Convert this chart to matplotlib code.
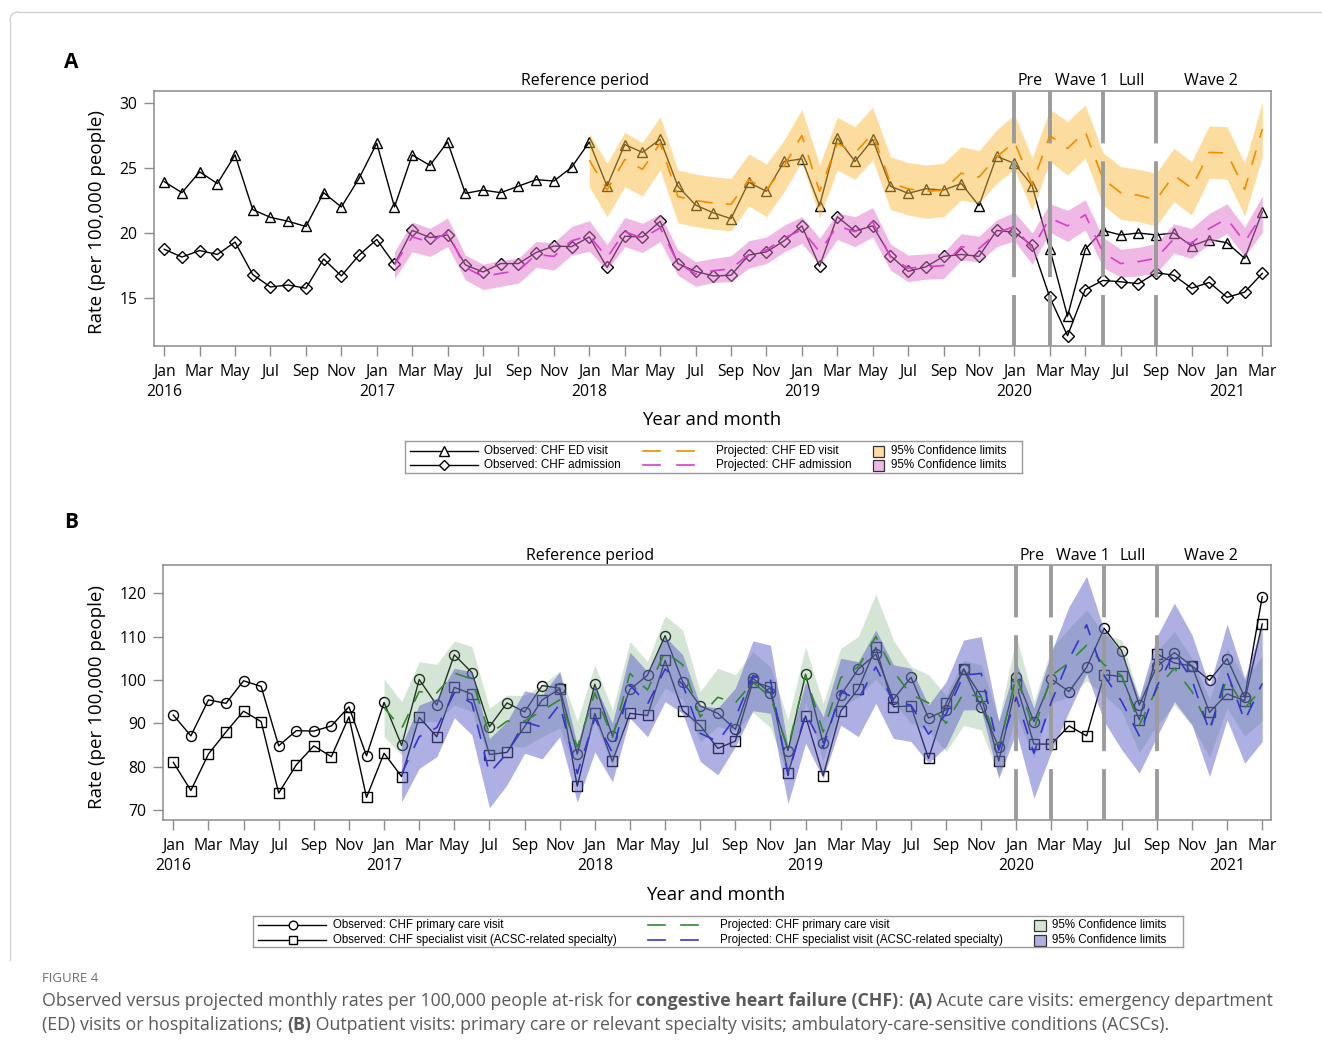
import numpy as np
import pandas as pd
import matplotlib
matplotlib.use("Agg")
import matplotlib.pyplot as plt
from matplotlib.lines import Line2D
from matplotlib.patches import Rectangle

W, H = 1322, 1056
plt.rcParams.update({
    "font.family": ["Open Sans", "DejaVu Sans"],
    "axes.linewidth": 1.1,
})

# Datos (tasas mensuales por 100,000)

months = pd.date_range("2016-01-01", "2021-03-01", freq="MS")
x = np.arange(len(months))
tick_labels = [m.strftime("%b") + (m.strftime("\n%Y") if m.month == 1 else "")
               for m in months[::2]]

# Panel A: visitas ED y admisiones
ed_obs = [23.95, 23.1, 24.7, 23.8, 26.0, 21.8, 21.2, 20.9, 20.5, 23.1, 22.0, 24.2,
          26.9, 22.0, 26.0, 25.2, 27.0, 23.05, 23.3, 23.1, 23.6, 24.1, 24.0, 25.05,
          27.0, 23.6, 26.8, 26.2, 27.2, 23.6, 22.15, 21.55, 21.1, 23.9, 23.2, 25.5,
          25.7, 22.1, 27.3, 25.5, 27.2, 23.6, 23.05, 23.4, 23.3, 23.8, 22.1, 25.9,
          25.35, 23.65, 18.75, 13.6, 18.75, 20.2, 19.85, 20.0, 19.85, 20.0, 19.0, 19.5,
          19.25, 18.05, 21.65]
adm_obs = [18.75, 18.15, 18.65, 18.35, 19.3, 16.8, 15.85, 16.0, 15.75, 18.0, 16.7, 18.3,
           19.5, 17.6, 20.2, 19.65, 19.85, 17.55, 17.0, 17.65, 17.65, 18.5, 19.0, 18.95,
           19.7, 17.35, 19.75, 19.7, 20.9, 17.65, 17.05, 16.7, 16.75, 18.3, 18.55, 19.4,
           20.55, 17.45, 21.25, 20.15, 20.55, 18.25, 17.05, 17.4, 18.2, 18.35, 18.2, 20.2,
           20.05, 19.05, 15.05, 12.1, 15.65, 16.35, 16.25, 16.1, 16.95, 16.75, 15.75, 16.2,
           15.05, 15.45, 16.9]

ed_start = 24   # Jan 2018
ed_proj = [25.6, 23.3, 25.65, 24.9, 26.9, 22.8, 22.5, 22.3, 22.2, 24.1, 23.3, 25.15,
           27.5, 23.2, 26.9, 26.15, 27.65, 23.85, 23.4, 23.2, 23.3, 24.6, 24.3, 25.85,
           27.0, 23.75, 27.5, 26.5, 27.8, 24.15, 23.1, 22.9, 22.55, 24.45, 23.45, 26.2,
           26.15, 23.35, 28.0]
ed_hi = [27.67, 25.36, 27.74, 26.95, 28.95, 24.85, 24.54, 24.33, 24.2, 26.08, 25.3, 27.15,
         29.51, 25.23, 28.9, 28.18, 29.67, 25.87, 25.41, 25.23, 25.36, 26.64, 26.33, 27.92,
         29.1, 25.75, 29.5, 28.57, 29.85, 26.18, 25.1, 24.9, 24.59, 26.51, 25.49, 28.23,
         28.18, 25.36, 30.1]
ed_lo = [23.56, 21.26, 23.56, 22.85, 24.85, 20.79, 20.49, 20.28, 20.18, 22.08, 21.26, 23.18,
         25.49, 21.18, 24.85, 24.13, 25.62, 21.82, 21.38, 21.13, 21.26, 22.54, 22.28, 23.82,
         24.9, 21.72, 25.49, 24.46, 25.75, 22.15, 21.05, 20.87, 20.54, 22.41, 21.39, 24.21,
         24.13, 21.31, 25.87]

adm_start = 13  # Feb 2017
adm_proj = [17.55, 19.7, 19.3, 20.05, 17.35, 16.65, 16.9, 17.1, 18.35, 18.2, 19.4,
            19.8, 18.1, 20.1, 19.6, 20.4, 17.7, 16.85, 17.1, 17.25, 18.35, 18.7, 19.6,
            20.25, 18.55, 20.55, 20.1, 20.85, 18.15, 17.3, 17.4, 17.5, 18.95, 18.8, 20.0,
            20.5, 18.8, 21.15, 20.55, 21.4, 18.5, 17.65, 17.8, 18.05, 19.55, 19.2, 20.35,
            21.1, 19.3, 21.45]
adm_hi = [18.55, 20.85, 20.35, 21.15, 18.3, 17.6, 17.9, 18.05, 19.35, 19.25, 20.5,
          20.95, 19.1, 21.2, 20.75, 21.45, 18.7, 17.8, 18.05, 18.25, 19.4, 19.7, 20.6,
          21.25, 19.6, 21.55, 21.25, 21.95, 19.15, 18.3, 18.4, 18.5, 19.95, 19.75, 21.0,
          21.6, 20.0, 22.25, 21.75, 22.55, 19.65, 18.75, 18.9, 19.2, 20.7, 20.35, 21.5,
          22.25, 20.45, 22.85]
adm_lo = [16.5, 18.55, 18.2, 18.95, 16.4, 15.65, 15.9, 16.15, 17.35, 17.15, 18.3,
          18.6, 17.15, 18.95, 18.5, 19.35, 16.75, 15.9, 16.2, 16.25, 17.3, 17.65, 18.55,
          19.2, 17.55, 19.5, 18.95, 19.7, 17.15, 16.25, 16.45, 16.5, 17.9, 17.8, 18.95,
          19.4, 17.6, 20.05, 19.35, 20.25, 17.35, 16.6, 16.7, 16.9, 18.45, 18.05, 19.2,
          19.95, 18.2, 20.05]

# Panel B: atencion primaria y especialista
pc_obs = [91.9, 87.1, 95.4, 94.6, 99.8, 98.5, 84.8, 88.3, 88.2, 89.4, 93.8, 82.5,
          94.8, 84.9, 100.1, 94.2, 105.8, 101.7, 89.2, 94.7, 92.6, 98.7, 98.1, 82.9,
          99.0, 87.1, 97.8, 101.1, 110.2, 99.6, 94.0, 92.3, 88.6, 100.4, 96.9, 83.7,
          101.3, 85.4, 96.5, 102.5, 105.9, 95.5, 100.6, 91.2, 93.1, 102.5, 93.8, 84.5,
          100.7, 90.4, 100.2, 97.3, 102.9, 111.9, 106.7, 94.2, 103.1, 106.3, 103.2, 99.9,
          104.9, 96.0, 119.2]
sp_obs = [81.0, 74.5, 82.9, 88.0, 92.8, 90.4, 73.9, 80.4, 84.8, 82.3, 91.5, 72.9,
          83.1, 77.7, 91.4, 86.9, 98.3, 96.7, 82.8, 83.3, 89.2, 95.4, 97.9, 75.5,
          92.3, 81.2, 92.3, 91.8, 104.5, 92.9, 89.5, 84.2, 85.9, 99.6, 98.3, 78.5,
          91.7, 77.9, 92.8, 97.9, 107.5, 93.8, 94.0, 81.9, 94.6, 102.5, 96.2, 81.3,
          99.0, 85.2, 85.2, 89.4, 87.1, 101.2, 100.8, 90.8, 106.0, 103.9, 103.2, 92.5,
          96.8, 95.2, 112.9]

pc_start = 12   # Jan 2017
pc_proj = [93.6, 88.8, 97.3, 97.0, 101.6, 100.2, 87.5, 90.5, 90.5, 92.9, 95.4, 84.5,
           97.0, 86.6, 101.5, 97.7, 106.5, 103.5, 91.5, 96.0, 94.7, 99.5, 96.0, 84.3,
           101.2, 88.0, 100.5, 103.0, 110.0, 102.0, 96.6, 94.7, 90.0, 97.0, 96.0, 84.3,
           101.0, 88.5, 101.0, 104.0, 108.0, 103.5, 101.0, 89.6, 98.0, 102.7, 97.3, 88.8,
           100.4, 93.5, 98.0]
pc_hi = [100.2, 95.0, 104.2, 103.6, 109.0, 107.7, 93.5, 96.5, 96.4, 98.9, 102.0, 90.5,
         103.5, 93.1, 108.8, 104.2, 114.8, 111.5, 97.3, 102.7, 101.2, 106.5, 103.0, 90.8,
         107.7, 94.6, 107.3, 110.0, 119.8, 109.2, 103.1, 101.2, 96.5, 104.5, 103.5, 90.8,
         110.0, 95.0, 107.3, 111.9, 116.2, 110.5, 109.2, 96.0, 106.5, 111.2, 105.0, 95.5,
         107.3, 100.0, 105.5]
pc_lo = [86.9, 82.7, 90.4, 90.4, 94.2, 92.7, 81.5, 84.6, 84.6, 86.9, 88.9, 78.5,
         90.5, 80.1, 94.2, 91.2, 98.2, 95.5, 85.7, 89.3, 88.2, 92.5, 89.0, 77.8,
         94.7, 81.4, 93.7, 96.0, 100.2, 94.8, 90.1, 88.2, 83.5, 89.5, 88.5, 77.8,
         92.0, 82.0, 94.7, 96.1, 99.8, 96.5, 92.8, 83.2, 89.5, 94.2, 89.6, 82.1,
         93.5, 87.0, 90.5]

sp_start = 13   # Feb 2017
sp_proj = [78.4, 86.9, 89.0, 97.0, 94.6, 78.5, 83.1, 90.3, 89.1, 94.4, 78.4,
           91.2, 83.2, 98.8, 94.4, 102.5, 99.0, 87.7, 85.8, 91.3, 101.0, 100.1, 78.0,
           92.4, 84.4, 97.3, 95.5, 103.0, 95.0, 94.2, 87.5, 92.1, 101.1, 101.5, 83.8,
           96.0, 83.1, 95.0, 104.8, 112.7, 101.0, 95.0, 87.1, 98.5, 106.3, 100.0, 88.1,
           101.8, 90.6, 99.2]
sp_hi = [85.0, 94.2, 95.8, 102.7, 101.9, 86.5, 90.4, 97.5, 96.5, 101.9, 85.0,
         99.0, 90.0, 106.4, 101.9, 110.0, 105.8, 94.2, 93.5, 98.1, 109.0, 108.0, 84.6,
         99.5, 91.5, 105.0, 104.2, 111.5, 103.5, 102.7, 94.2, 99.6, 109.2, 110.0, 90.4,
         104.0, 93.5, 106.5, 116.9, 123.9, 111.5, 106.2, 95.8, 110.0, 117.7, 110.4, 98.5,
         112.9, 100.4, 112.7]
sp_lo = [71.9, 79.6, 82.3, 91.3, 87.3, 70.5, 75.8, 83.1, 81.8, 86.9, 71.8,
         83.4, 76.5, 91.2, 86.9, 95.0, 92.3, 81.2, 78.1, 84.6, 92.9, 92.3, 71.5,
         85.4, 77.3, 89.6, 86.9, 94.6, 86.5, 85.8, 80.8, 84.6, 93.1, 93.1, 77.3,
         88.0, 72.7, 83.5, 92.7, 101.5, 90.4, 83.9, 78.5, 86.9, 95.0, 89.6, 77.7,
         90.8, 80.8, 85.8]

# Periodos COVID (indices de mes)
period_breaks = [48, 50, 53, 56]
period_names = ["Reference period", "Pre", "Wave 1", "Lull", "Wave 2"]
period_centers = [23.75, 48.9, 51.8, 54.6, 59.1]

C_ED, C_ED_BAND = "#F08C00", "#FDBB41"
C_ADM, C_ADM_BAND = "#D63FC8", "#E173CD"
C_PC, C_PC_BAND = "#2E8B2E", "#76AC76"
C_SP, C_SP_BAND = "#3535D0", "#5F61C9"
GRAY = "#8c8c8c"

fig = plt.figure(figsize=(W / 100, H / 100), dpi=100, facecolor="white")


def box(l, t, r, b):
    return [l / W, 1 - b / H, (r - l) / W, (b - t) / H]


def style(ax, xlim, ylim, yticks):
    ax.set_xlim(*xlim)
    ax.set_ylim(*ylim)
    ax.set_yticks(yticks)
    ax.set_xticks(x[::2])
    ax.set_xticklabels(tick_labels, linespacing=1.3)
    for s in ax.spines.values():
        s.set_color(GRAY)
    ax.tick_params(colors=GRAY, labelcolor="black", length=7, width=1,
                   labelsize=11.3, pad=6)
    ax.tick_params(axis="y", pad=5)


def period_marks(ax, ytxt):
    y0, y1 = ax.get_ylim()
    for b in period_breaks:
        ax.plot([b, b], [y0, y1], color="#9b9b9b", lw=2.8,
                dashes=(13.1, 4.6, 29.8, 4.6, 200, 1),
                dash_capstyle="butt", zorder=3.5)
    tr = ax.get_xaxis_transform()
    for name, cx in zip(period_names, period_centers):
        ax.text(cx, ytxt, name, transform=tr, ha="center", va="baseline",
                fontsize=11.5)


def observed(ax, y, marker, ms):
    ax.plot(x, y, color="black", lw=1, marker=marker, ms=ms, mfc="none",
            mec="black", mew=1, zorder=2)


def projected(ax, start, proj, lo, hi, c_line, c_band, alpha):
    xs = x[start:]
    ax.fill_between(xs, lo, hi, color=c_band, alpha=alpha, lw=0, zorder=3)
    ax.plot(xs, proj, color=c_line, lw=1.2, dashes=(9, 8), zorder=4)


# Panel A
axA = fig.add_axes(box(154.3, 91, 1270.7, 346))
style(axA, (-0.56, 62.47), (11.31, 30.92), [15, 20, 25, 30])
observed(axA, ed_obs, "^", 7.5)
observed(axA, adm_obs, "D", 5.8)
projected(axA, ed_start, ed_proj, ed_lo, ed_hi, C_ED, C_ED_BAND, 0.5)
projected(axA, adm_start, adm_proj, adm_lo, adm_hi, C_ADM, C_ADM_BAND, 0.5)
period_marks(axA, 1.024)

# Panel B
axB = fig.add_axes(box(163.3, 565, 1271, 820))
style(axB, (-0.57, 62.5), (67.7, 126.5), [70, 80, 90, 100, 110, 120])
observed(axB, pc_obs, "o", 7.2)
observed(axB, sp_obs, "s", 6.5)
projected(axB, pc_start, pc_proj, pc_lo, pc_hi, C_PC, C_PC_BAND, 0.3)
projected(axB, sp_start, sp_proj, sp_lo, sp_hi, C_SP, C_SP_BAND, 0.5)
period_marks(axB, 1.02)

# Textos de ejes
for cy, cx_lab, cy_lab in [(222, 712, 420), (697, 716, 895)]:
    fig.text(97 / W, 1 - cy / H, "Rate (per 100,000 people)", rotation=90,
             ha="center", va="center", fontsize=13.5)
    fig.text(cx_lab / W, 1 - cy_lab / H, "Year and month", ha="center",
             va="center", fontsize=13.3)
fig.text(71 / W, 1 - 62 / H, "A", ha="center", va="center", fontsize=15,
         fontweight="bold")
fig.text(71 / W, 1 - 523 / H, "B", ha="center", va="center", fontsize=15,
         fontweight="bold")


# Leyendas (dibujadas en cajas con coordenadas de pixel)
def legend_box(l, t, r, b):
    ax = fig.add_axes(box(l, t, r, b))
    ax.set_xlim(l, r)
    ax.set_ylim(b, t)
    ax.set_xticks([])
    ax.set_yticks([])
    for s in ax.spines.values():
        s.set_color("#9a9a9a")
        s.set_linewidth(1)
    return ax


def legend_rows(ax, rows, cols, font):
    (h0, h1, hm, tx1), (d0, d1, d2, d3, tx2), (p0, p1, tx3) = cols
    for ry, (obs_lab, mk, ms, proj_lab, c_line, band_c, alpha) in zip(rows, font["items"]):
        ax.plot([h0, h1], [ry, ry], color="black", lw=1)
        ax.plot([hm], [ry], marker=mk, ms=ms, mfc="white", mec="black", mew=1)
        ax.text(tx1, ry, obs_lab, va="center", ha="left", **font["kw"])
        ax.plot([d0, d1], [ry, ry], color=c_line, lw=1.2)
        ax.plot([d2, d3], [ry, ry], color=c_line, lw=1.2)
        ax.text(tx2, ry, proj_lab, va="center", ha="left", **font["kw"])
        ax.add_patch(Rectangle((p0, ry - 5.5), p1 - p0, 11, facecolor="white",
                               edgecolor="none"))
        ax.add_patch(Rectangle((p0, ry - 5.5), p1 - p0, 11, facecolor=band_c,
                               alpha=alpha, edgecolor="none"))
        ax.add_patch(Rectangle((p0, ry - 5.5), p1 - p0, 11, facecolor="none",
                               edgecolor="#333333", lw=0.9))
        ax.text(tx3, ry, "95% Confidence limits", va="center", ha="left",
                **font["kw"])


legA = legend_box(405, 441, 1022, 473)
legend_rows(legA, [451, 465],
            [(410, 478, 444, 484), (643, 660, 677, 694, 716), (873, 884, 891)],
            {"kw": {"fontsize": 8.4, "family": ["Liberation Sans", "DejaVu Sans"]},
             "items": [("Observed: CHF ED visit", "^", 6.5, "Projected: CHF ED visit",
                        C_ED, C_ED_BAND, 0.5),
                       ("Observed: CHF admission", "D", 5.0, "Projected: CHF admission",
                        C_ADM, C_ADM_BAND, 0.5)]})

legB = legend_box(253, 916, 1183, 947)
legend_rows(legB, [925, 940],
            [(258, 326, 293, 333), (648, 665, 681, 698, 720), (1034, 1046, 1052)],
            {"kw": {"fontsize": 8.3, "family": ["Liberation Sans Narrow", "Liberation Sans"]},
             "items": [("Observed: CHF primary care visit", "o", 6.2,
                        "Projected: CHF primary care visit", C_PC, C_PC_BAND, 0.3),
                       ("Observed: CHF specialist visit (ACSC-related specialty)", "s", 6.0,
                        "Projected: CHF specialist visit (ACSC-related specialty)",
                        C_SP, C_SP_BAND, 0.5)]})

# Marco de la figura
fig.add_artist(Line2D([10 / W, 10 / W], [1 - 960 / H, 1 - 20 / H], color="#d2d2d2", lw=1))
fig.add_artist(Line2D([18 / W, 1], [1 - 12 / H, 1 - 12 / H], color="#d2d2d2", lw=1))
t_arc = np.linspace(0, np.pi / 2, 12)
fig.add_artist(Line2D((18 - 8 * np.cos(t_arc)) / W, 1 - (20 - 8 * np.sin(t_arc)) / H,
                      color="#d2d2d2", lw=1))

# Pie de figura
fig.text(42 / W, 1 - 978 / H, "FIGURE 4", ha="left", va="center", fontsize=9.5,
         color="#6e6e6e")


def rich_line(x_px, y_px, parts):
    r = fig.canvas.get_renderer()
    xf = x_px / W
    for s, bold in parts:
        t = fig.text(xf, 1 - y_px / H, s, ha="left", va="center", fontsize=12.8,
                     color="#5a5a5a", fontweight="bold" if bold else "normal")
        xf += t.get_window_extent(renderer=r).width / W


rich_line(42, 1001, [("Observed versus projected monthly rates per 100,000 people at-risk for ", False),
                     ("congestive heart failure (CHF)", True), (": ", False), ("(A)", True),
                     (" Acute care visits: emergency department", False)])
rich_line(42, 1025, [("(ED) visits or hospitalizations; ", False), ("(B)", True),
                     (" Outpatient visits: primary care or relevant specialty visits; "
                      "ambulatory-care-sensitive conditions (ACSCs).", False)])

fig.savefig("out.png", dpi=100, facecolor="white")
